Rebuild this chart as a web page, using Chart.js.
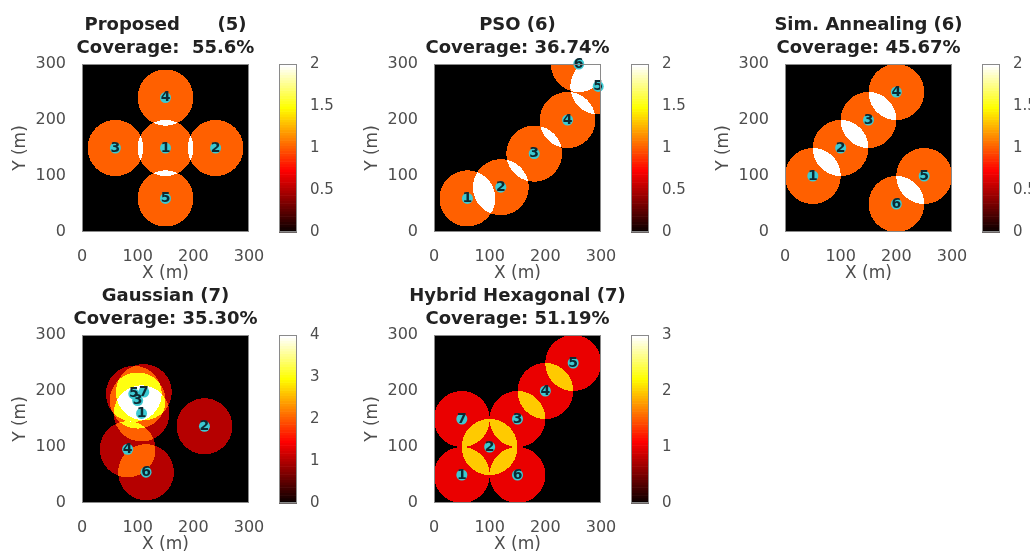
<!DOCTYPE html>
<html>
<head>
<meta charset="utf-8">
<script src="https://cdn.jsdelivr.net/npm/chart.js@4.4.1/dist/chart.umd.min.js"></script>
<style>
  body { margin: 0; background: #fff; overflow: hidden; }
  #fig { position: relative; width: 1030px; height: 555px; }
  canvas { position: absolute; }
</style>
</head>
<body>
<div id="fig"></div>
<script>
// panel titles
const panelTitles = ['Proposed      (5)', 'PSO (6)', 'Sim. Annealing (6)', 'Gaussian (7)', 'Hybrid Hexagonal (7)'];
const coverageText = ['Coverage:  55.6%', 'Coverage: 36.74%', 'Coverage: 45.67%', 'Coverage: 35.30%', 'Coverage: 51.19%'];

// sensor positions (m)
const proposedX = [150, 240, 60, 150, 150];
const proposedY = [150, 150, 150, 240, 60];
const psoX = [60, 120, 180, 240, 295, 260];
const psoY = [60, 80, 140, 200, 260, 300];
const annealX = [50, 100, 150, 200, 250, 200];
const annealY = [100, 150, 200, 250, 100, 50];
const gaussX = [107, 220, 100, 82, 93, 115, 111];
const gaussY = [160, 137, 183, 96, 195, 55, 198];
const hexX = [50, 100, 150, 200, 250, 150, 50];
const hexY = [50, 100, 150, 200, 250, 50, 150];

const sensorRadius = 50;
const axisTicks = [0, 100, 200, 300];
const colorbarMax = [2, 2, 2, 4, 3];
const colorbarStep = [0.5, 0.5, 0.5, 1, 1];

const panelX = [proposedX, psoX, annealX, gaussX, hexX];
const panelY = [proposedY, psoY, annealY, gaussY, hexY];

// layout
const boxLeft = [82, 434, 785, 82, 434];
const boxTop = [64, 64, 64, 335, 335];
const cbLeft = [279, 631, 982, 279, 631];
const BOX_W = 167, BOX_H = 168;
const Y_AXIS_W = 76, X_AXIS_H = 52, TITLE_H = 64, RIGHT_PAD = 45;

const FONT = 'DejaVu Sans';
const TICK_COLOR = '#4d4d4d';

// matlab-ish "hot" colormap, 64 levels
function hotColor(t) {
    const m = 64, n1 = 24;
    const i = Math.min(m - 1, Math.floor(t * m)) + 1;
    const r = i <= n1 ? i / n1 : 1;
    const g = i <= n1 ? 0 : (i <= 2 * n1 ? (i - n1) / n1 : 1);
    const b = i <= 2 * n1 ? 0 : (i - 2 * n1) / (m - 2 * n1);
    return [Math.round(r * 255), Math.round(g * 255), Math.round(b * 255)];
}

// paints the coverage count map behind the sensors
const coveragePlugin = {
    id: 'coverage',
    beforeDatasetsDraw(chart, args, opts) {
        const { ctx, chartArea: a, scales: { x, y } } = chart;
        const pts = chart.data.datasets[0].data;
        const w = Math.round(a.right - a.left), h = Math.round(a.bottom - a.top);
        const off = document.createElement('canvas');
        off.width = w; off.height = h;
        const octx = off.getContext('2d');
        const img = octx.createImageData(w, h);
        const r2 = opts.radius * opts.radius;
        for (let j = 0; j < h; j++) {
            const vy = y.getValueForPixel(a.top + j + 0.5);
            for (let i = 0; i < w; i++) {
                const vx = x.getValueForPixel(a.left + i + 0.5);
                let n = 0;
                pts.forEach(p => {
                    const dx = vx - p.x, dy = vy - p.y;
                    if (dx * dx + dy * dy <= r2) n++;
                });
                const c = n === 0 ? [0, 0, 0] : hotColor(n / opts.max);
                const k = (j * w + i) * 4;
                img.data[k] = c[0]; img.data[k + 1] = c[1]; img.data[k + 2] = c[2]; img.data[k + 3] = 255;
            }
        }
        octx.putImageData(img, 0, 0);
        ctx.drawImage(off, a.left, a.top);
    },
    afterDatasetsDraw(chart) {
        const { ctx } = chart;
        const meta = chart.getDatasetMeta(0);
        ctx.save();
        ctx.font = 'bold 14px "' + FONT + '"';
        ctx.fillStyle = '#0d2a33';
        ctx.textAlign = 'center';
        ctx.textBaseline = 'middle';
        meta.data.forEach((pt, i) => {
            ctx.fillText(String(i + 1), pt.x, pt.y);
        });
        ctx.restore();
    },
    afterDraw(chart, args, opts) {
        const { ctx, chartArea: a } = chart;
        ctx.save();
        ctx.strokeStyle = '#8a8a8a';
        ctx.lineWidth = 1;
        ctx.strokeRect(a.left + 0.5, a.top + 0.5, a.right - a.left - 1, a.bottom - a.top - 1);
        // two-line title, centred over the axes box
        ctx.font = 'bold 18px "' + FONT + '"';
        ctx.fillStyle = '#222';
        ctx.textAlign = 'center';
        ctx.textBaseline = 'middle';
        const cx = (a.left + a.right) / 2;
        opts.lines.forEach((t, i) => ctx.fillText(t, cx, a.top - 39 + i * 23));
        ctx.restore();
    }
};

// paints the colour scale inside the colorbar axes
const colorbarPlugin = {
    id: 'colorbar',
    beforeDatasetsDraw(chart) {
        const { ctx, chartArea: a, scales: { y } } = chart;
        const max = y.max;
        const m = 64;
        for (let i = 0; i < m; i++) {
            const y0 = y.getPixelForValue(max * i / m);
            const y1 = y.getPixelForValue(max * (i + 1) / m);
            const c = hotColor((i + 0.5) / m);
            ctx.fillStyle = 'rgb(' + c.join(',') + ')';
            ctx.fillRect(a.left, y1, a.right - a.left, y0 - y1 + 0.6);
        }
        ctx.strokeStyle = '#8a8a8a';
        ctx.lineWidth = 1;
        ctx.strokeRect(a.left + 0.5, a.top + 0.5, a.right - a.left - 1, a.bottom - a.top - 1);
    }
};

const fig = document.getElementById('fig');

function makeCanvas(left, top, w, h) {
    const c = document.createElement('canvas');
    c.width = w; c.height = h;
    c.style.left = left + 'px'; c.style.top = top + 'px';
    c.style.width = w + 'px'; c.style.height = h + 'px';
    fig.appendChild(c);
    return c;
}

for (let p = 0; p < 5; p++) {
    const pts = panelX[p].map((v, i) => ({ x: v, y: panelY[p][i] }));

    const cv = makeCanvas(boxLeft[p] - Y_AXIS_W, boxTop[p] - TITLE_H, Y_AXIS_W + BOX_W + RIGHT_PAD, TITLE_H + BOX_H + X_AXIS_H);
    new Chart(cv, {
        type: 'scatter',
        data: {
            datasets: [{
                data: pts,
                pointRadius: 5.5,
                pointBackgroundColor: '#3cc9d2',
                pointBorderWidth: 0,
                clip: false
            }]
        },
        options: {
            responsive: false,
            animation: false,
            devicePixelRatio: 1,
            layout: { padding: { left: 0, right: RIGHT_PAD, top: TITLE_H, bottom: 0 } },
            plugins: {
                legend: { display: false },
                tooltip: { enabled: false },
                coverage: { radius: sensorRadius, max: colorbarMax[p], lines: [panelTitles[p], coverageText[p]] }
            },
            scales: {
                x: {
                    type: 'linear',
                    min: axisTicks[0], max: axisTicks[axisTicks.length - 1],
                    afterFit: s => { s.height = X_AXIS_H; s.paddingLeft = 0; s.paddingRight = 0; },
                    afterBuildTicks: s => { s.ticks = axisTicks.map(v => ({ value: v })); },
                    grid: { display: false },
                    border: { display: false },
                    ticks: { padding: 7, color: TICK_COLOR, maxRotation: 0, autoSkip: false, font: { family: FONT, size: 16 } },
                    title: { display: true, text: 'X (m)', color: TICK_COLOR, font: { family: FONT, size: 17 }, padding: { top: 0, bottom: 0 } }
                },
                y: {
                    type: 'linear',
                    min: axisTicks[0], max: axisTicks[axisTicks.length - 1],
                    afterFit: s => { s.width = Y_AXIS_W; s.paddingTop = 0; s.paddingBottom = 0; },
                    afterBuildTicks: s => { s.ticks = axisTicks.map(v => ({ value: v })); },
                    grid: { display: false },
                    border: { display: false },
                    ticks: { padding: 8, color: TICK_COLOR, autoSkip: false, font: { family: FONT, size: 16 } },
                    title: { display: true, text: 'Y (m)', color: TICK_COLOR, font: { family: FONT, size: 17 }, padding: { top: 4, bottom: 0 } }
                }
            }
        },
        plugins: [coveragePlugin]
    });

    const cb = makeCanvas(cbLeft[p], boxTop[p] - 10, 18 + 45, BOX_H + 20);
    new Chart(cb, {
        type: 'scatter',
        data: { datasets: [] },
        options: {
            responsive: false,
            animation: false,
            devicePixelRatio: 1,
            layout: { padding: { top: 10, bottom: 10, left: 0, right: 0 } },
            plugins: { legend: { display: false }, tooltip: { enabled: false } },
            scales: {
                x: { display: false, min: 0, max: 1 },
                y: {
                    position: 'right',
                    min: 0, max: colorbarMax[p],
                    afterFit: s => { s.width = 45; s.paddingTop = 0; s.paddingBottom = 0; },
                    grid: { display: false },
                    border: { display: false },
                    ticks: {
                        stepSize: colorbarStep[p], padding: 5, color: TICK_COLOR,
                        font: { family: FONT, size: 15 },
                        callback: v => String(Math.round(v * 100) / 100)
                    }
                }
            }
        },
        plugins: [colorbarPlugin]
    });
}
</script>
</body>
</html>
